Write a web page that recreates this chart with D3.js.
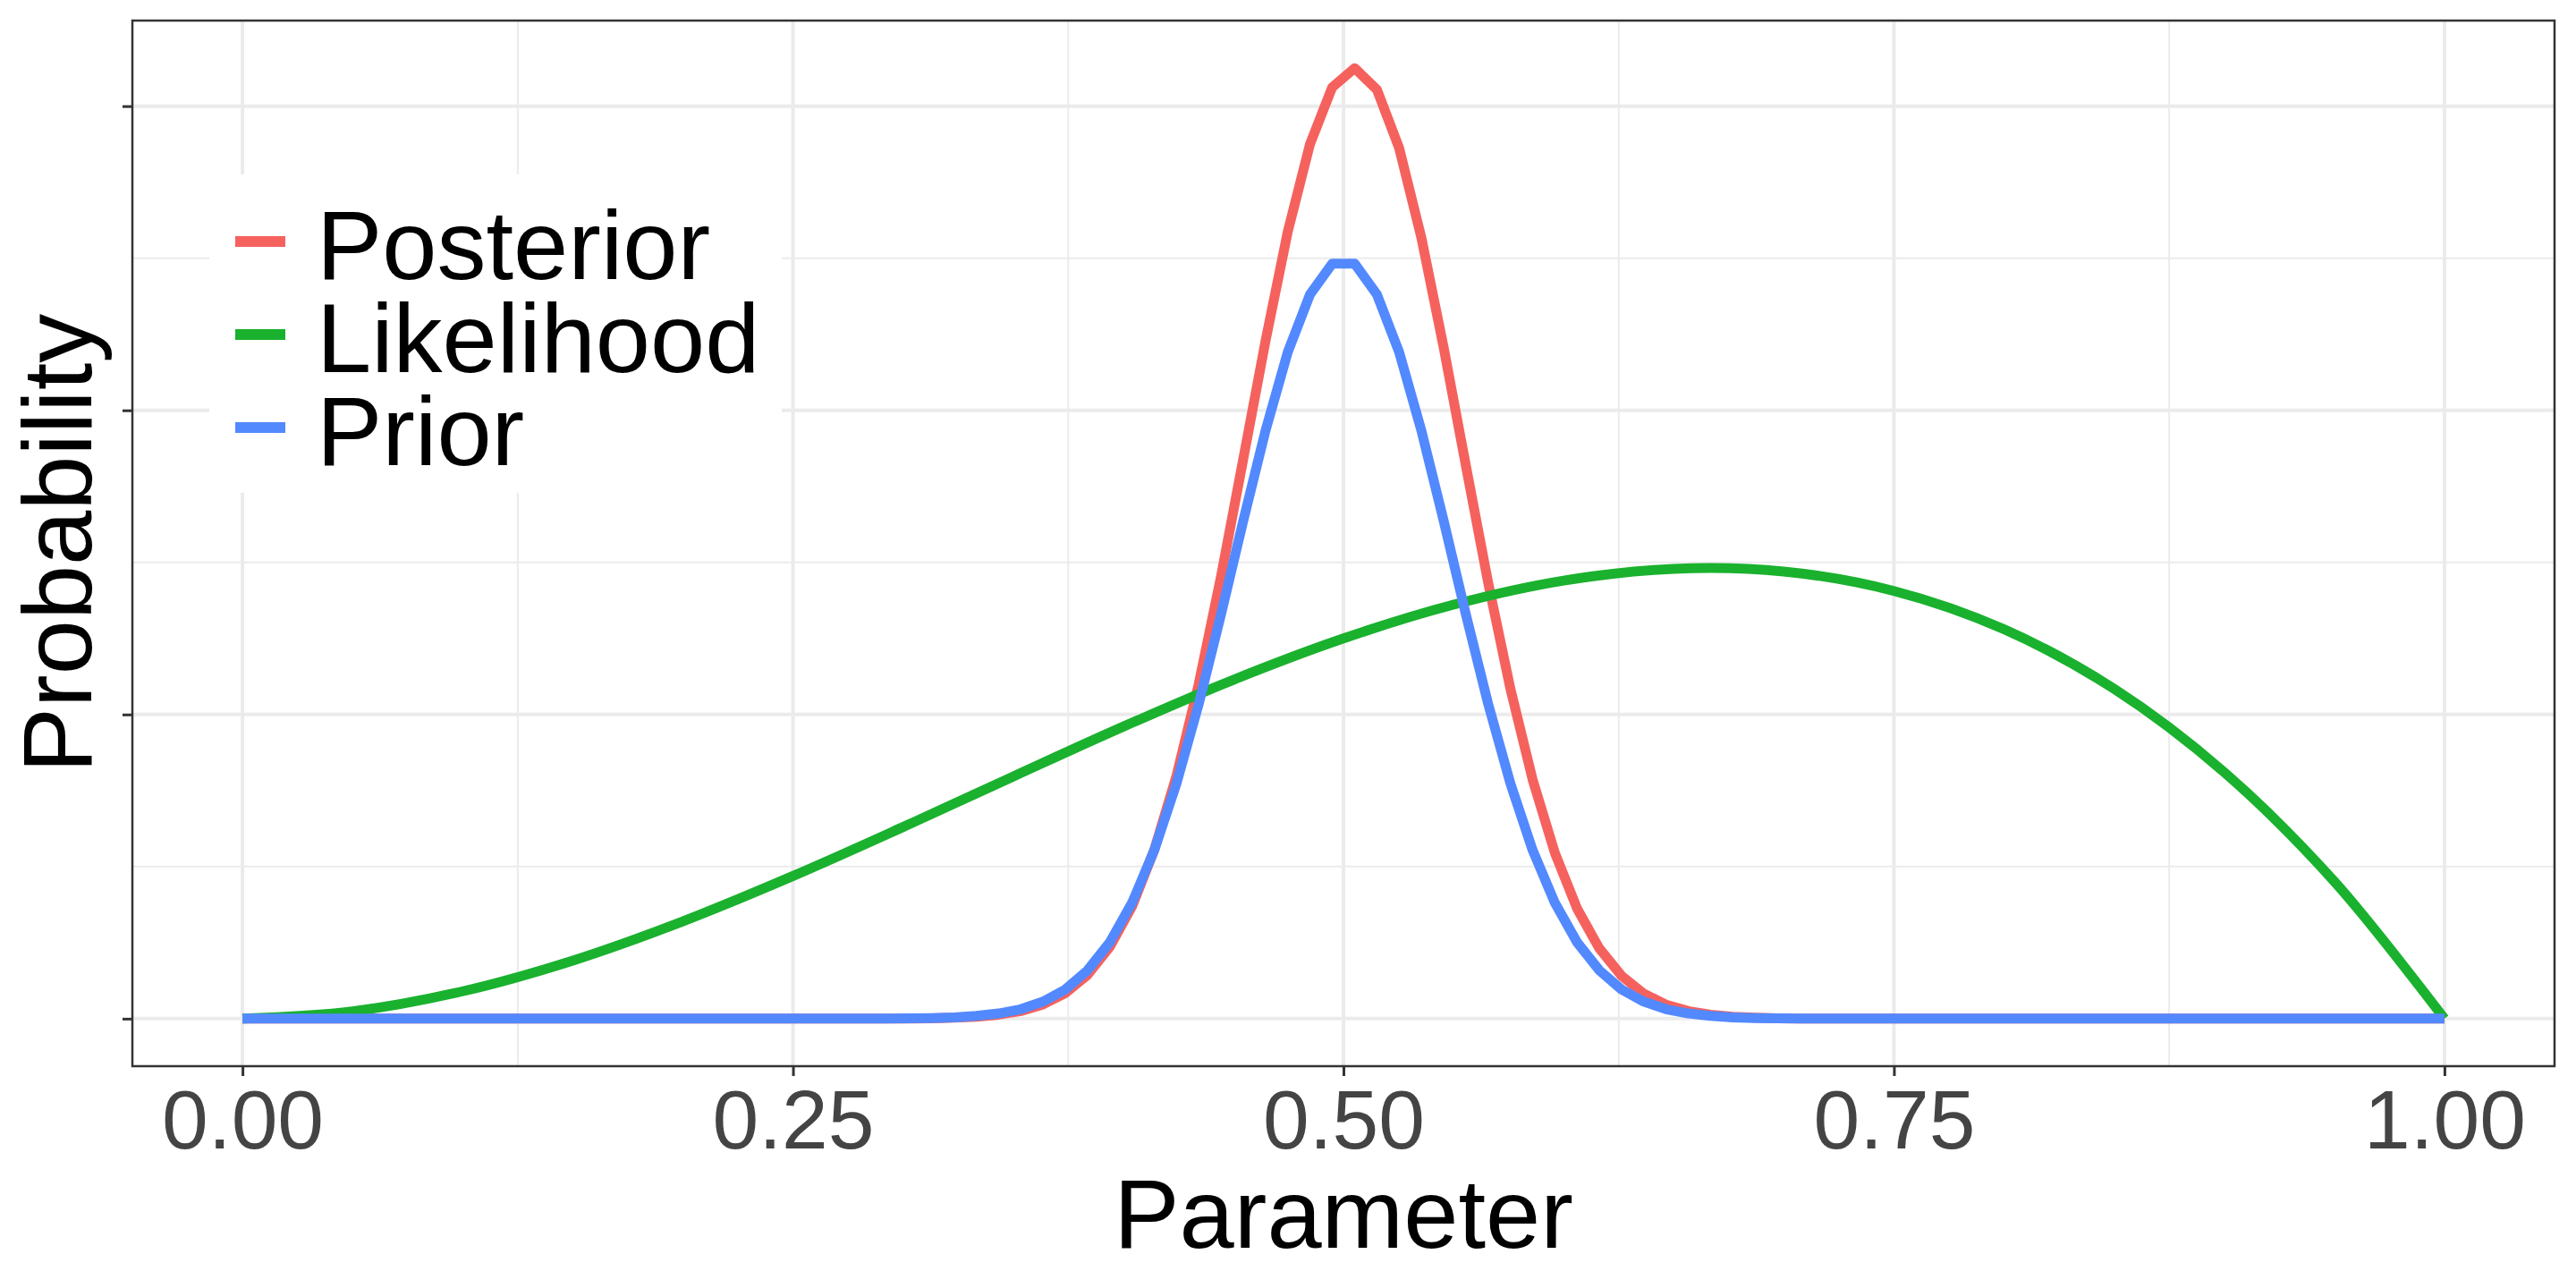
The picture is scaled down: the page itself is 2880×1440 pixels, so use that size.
<!DOCTYPE html>
<html><head><meta charset="utf-8">
<script src="https://cdn.jsdelivr.net/npm/d3@7/dist/d3.min.js"></script>
<style>body{margin:0;background:#fff}</style>
</head><body><svg id="chart" width="2880" height="1440"></svg>
<script>
// ---- data ----
const params = [0, 0.2929, 0.3030, 0.3131, 0.3232, 0.3333, 0.3434, 0.3535, 0.3636, 0.3737, 0.3838,
  0.3939, 0.4040, 0.4141, 0.4242, 0.4343, 0.4444, 0.4545, 0.4646, 0.4747, 0.4848,
  0.4949, 0.5051, 0.5152, 0.5253, 0.5354, 0.5455, 0.5556, 0.5657, 0.5758, 0.5859,
  0.5960, 0.6061, 0.6162, 0.6263, 0.6364, 0.6465, 0.6566, 0.6667, 0.6768, 0.6869,
  0.6970, 0.7071, 1];
const priorValues = [0, 0.0004, 0.0009, 0.002, 0.004, 0.009, 0.017, 0.031, 0.056, 0.096, 0.159,
  0.251, 0.381, 0.554, 0.774, 1.035, 1.329, 1.637, 1.933, 2.191, 2.381,
  2.482, 2.482, 2.381, 2.191, 1.933, 1.637, 1.329, 1.035, 0.774, 0.554,
  0.381, 0.251, 0.159, 0.096, 0.056, 0.031, 0.017, 0.009, 0.004, 0.002,
  0.0009, 0.0004, 0];
const posteriorValues = [0, 0.0002, 0.0006, 0.0013, 0.003, 0.006, 0.013, 0.025, 0.047, 0.084, 0.144,
  0.236, 0.369, 0.555, 0.799, 1.101, 1.454, 1.840, 2.228, 2.587, 2.875,
  3.062, 3.125, 3.054, 2.862, 2.567, 2.207, 1.818, 1.434, 1.085, 0.786,
  0.545, 0.362, 0.231, 0.141, 0.082, 0.046, 0.025, 0.013, 0.006, 0.003,
  0.0013, 0.0006, 0];
const likelihoodParams = [0, 0.05, 0.10, 0.15, 0.20, 0.25, 0.30, 0.35, 0.40, 0.45, 0.50,
  0.55, 0.60, 0.65, 0.70, 0.75, 0.80, 0.85, 0.90, 0.95, 1.00];
const likelihoodValues = [0, 0.024, 0.090, 0.191, 0.320, 0.469, 0.630, 0.796, 0.960, 1.114, 1.250,
  1.361, 1.440, 1.479, 1.470, 1.406, 1.280, 1.084, 0.810, 0.451, 0];
const seriesNames = ["Posterior", "Likelihood", "Prior"];
const seriesColors = ["#F5625E", "#1AB12E", "#5389FF"];
const xTickValues = [0, 0.25, 0.5, 0.75, 1];
const xTickLabels = ["0.00", "0.25", "0.50", "0.75", "1.00"];
const xMinorValues = [0.125, 0.375, 0.625, 0.875];
const yTickValues = [0, 1, 2, 3];
const yMinorValues = [0.5, 1.5, 2.5];
const xTitle = "Parameter";
const yTitle = "Probability";

// ---- layout ----
const FONT = "'Liberation Sans', Arial, Helvetica, sans-serif";
const panel = {left: 148, right: 2856, top: 23, bottom: 1192};
const svg = d3.select("#chart");

const x = d3.scaleLinear().domain([-0.05, 1.05]).range([panel.left, panel.right]);
const yMax = d3.max([d3.max(priorValues), d3.max(posteriorValues), d3.max(likelihoodValues)]);
const y = d3.scaleLinear().domain([-0.05 * yMax, 1.05 * yMax]).range([panel.bottom, panel.top]);

svg.append("rect").attr("x", 0).attr("y", 0).attr("width", 2880).attr("height", 1440).attr("fill", "#fff");

// grid
const grid = svg.append("g");
grid.selectAll(".xmin").data(xMinorValues).join("line")
  .attr("x1", d => x(d)).attr("x2", d => x(d)).attr("y1", panel.top).attr("y2", panel.bottom)
  .attr("stroke", "#EBEBEB").attr("stroke-width", 2);
grid.selectAll(".ymin").data(yMinorValues).join("line")
  .attr("y1", d => y(d)).attr("y2", d => y(d)).attr("x1", panel.left).attr("x2", panel.right)
  .attr("stroke", "#EBEBEB").attr("stroke-width", 2);
grid.selectAll(".xmaj").data(xTickValues).join("line")
  .attr("x1", d => x(d)).attr("x2", d => x(d)).attr("y1", panel.top).attr("y2", panel.bottom)
  .attr("stroke", "#EBEBEB").attr("stroke-width", 4);
grid.selectAll(".ymaj").data(yTickValues).join("line")
  .attr("y1", d => y(d)).attr("y2", d => y(d)).attr("x1", panel.left).attr("x2", panel.right)
  .attr("stroke", "#EBEBEB").attr("stroke-width", 4);

// lines
const series = [
  {name: seriesNames[0], color: seriesColors[0], pts: params.map((p, i) => [p, posteriorValues[i]]), curve: d3.curveLinear},
  {name: seriesNames[1], color: seriesColors[1], pts: likelihoodParams.map((p, i) => [p, likelihoodValues[i]]), curve: d3.curveCatmullRom.alpha(0.5)},
  {name: seriesNames[2], color: seriesColors[2], pts: params.map((p, i) => [p, priorValues[i]]), curve: d3.curveLinear}
];
series.forEach(s => {
  const line = d3.line().x(d => x(d[0])).y(d => y(d[1])).curve(s.curve);
  svg.append("path").attr("d", line(s.pts)).attr("fill", "none")
    .attr("stroke", s.color).attr("stroke-width", 11)
    .attr("stroke-linejoin", "round").attr("stroke-linecap", "butt");
});

// panel border
svg.append("rect").attr("x", panel.left).attr("y", panel.top)
  .attr("width", panel.right - panel.left).attr("height", panel.bottom - panel.top)
  .attr("fill", "none").attr("stroke", "#333333").attr("stroke-width", 2.5);

// axes
const xAxis = d3.axisBottom(x).tickValues(xTickValues).tickFormat((d, i) => xTickLabels[i])
  .tickSize(11).tickSizeOuter(0).tickPadding(12);
const gx = svg.append("g").attr("transform", `translate(0,${panel.bottom})`).call(xAxis);
gx.select(".domain").remove();
gx.selectAll(".tick line").attr("stroke", "#333333").attr("stroke-width", 3);
gx.selectAll(".tick text").attr("fill", "#444444").attr("font-size", 93).attr("font-family", FONT)
  .attr("y", 92).attr("dy", null);

const yAxis = d3.axisLeft(y).tickValues(yTickValues).tickFormat(() => "").tickSize(11).tickSizeOuter(0);
const gy = svg.append("g").attr("transform", `translate(${panel.left},0)`).call(yAxis);
gy.select(".domain").remove();
gy.selectAll(".tick line").attr("stroke", "#333333").attr("stroke-width", 3);

// titles
svg.append("text").attr("x", (panel.left + panel.right) / 2).attr("y", 1395)
  .attr("text-anchor", "middle").attr("font-family", FONT).attr("font-size", 110).attr("fill", "#000")
  .text(xTitle);
svg.append("text").attr("transform", `translate(102,${(panel.top + panel.bottom) / 2}) rotate(-90)`)
  .attr("text-anchor", "middle").attr("font-family", FONT).attr("font-size", 110).attr("fill", "#000")
  .text(yTitle);

// legend
const legend = svg.append("g");
legend.append("rect").attr("x", 234).attr("y", 195).attr("width", 640).attr("height", 356).attr("fill", "#fff");
seriesNames.forEach((name, i) => {
  const cy = 270 + i * 104;
  legend.append("line").attr("x1", 263).attr("x2", 319).attr("y1", cy).attr("y2", cy)
    .attr("stroke", seriesColors[i]).attr("stroke-width", 12);
  legend.append("text").attr("x", 354).attr("y", cy + 42)
    .attr("font-family", FONT).attr("font-size", 110).attr("fill", "#000").text(name);
});
</script></body></html>
